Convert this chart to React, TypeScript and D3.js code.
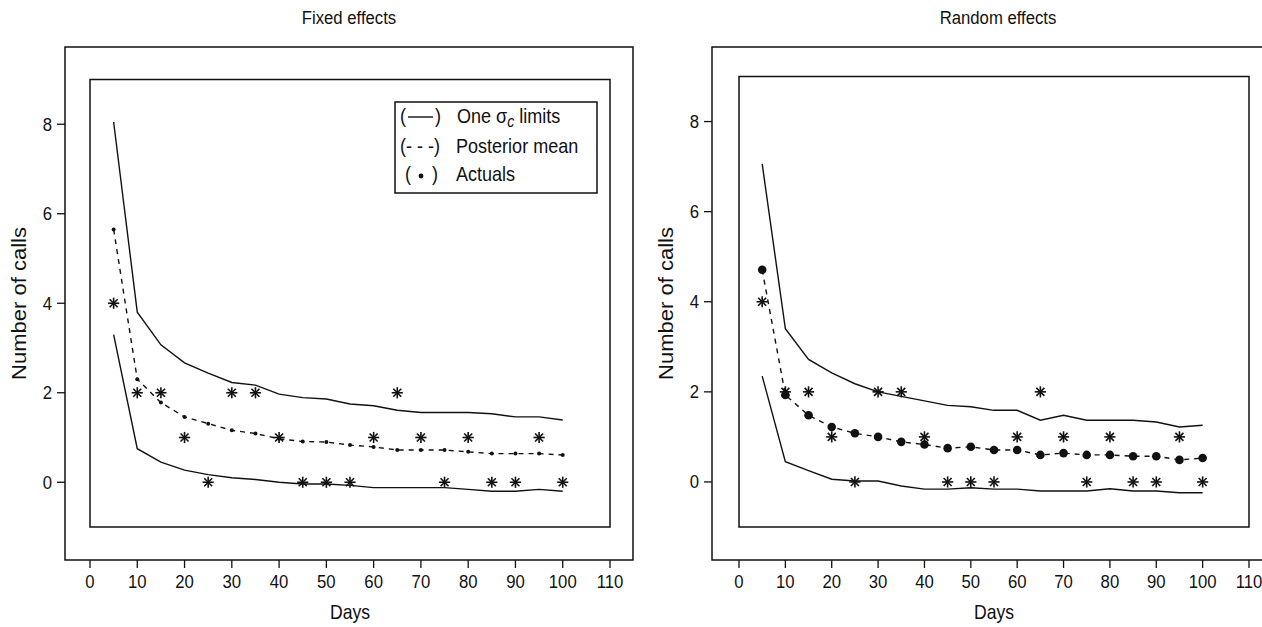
import React from "react";
import * as d3 from "d3";

// days of follow-up
const days = [5, 10, 15, 20, 25, 30, 35, 40, 45, 50, 55, 60, 65, 70, 75, 80, 85, 90, 95, 100];

// observed number of calls (same in both panels)
const actuals = [4, 2, 2, 1, 0, 2, 2, 1, 0, 0, 0, 1, 2, 1, 0, 1, 0, 0, 1, 0];

// fixed effects model
const fixedUpper = [8.05, 3.8, 3.07, 2.67, 2.44, 2.23, 2.17, 1.97, 1.89, 1.86, 1.75, 1.71, 1.61, 1.56, 1.56, 1.56, 1.53, 1.46, 1.46, 1.39];
const fixedMean = [5.65, 2.3, 1.78, 1.46, 1.31, 1.16, 1.09, 0.97, 0.91, 0.9, 0.83, 0.79, 0.72, 0.72, 0.72, 0.68, 0.64, 0.64, 0.64, 0.61];
const fixedLower = [3.3, 0.75, 0.45, 0.27, 0.17, 0.1, 0.06, 0.0, -0.04, -0.04, -0.07, -0.12, -0.12, -0.12, -0.12, -0.16, -0.2, -0.2, -0.16, -0.2];

// random effects model
const randomUpper = [7.06, 3.4, 2.72, 2.42, 2.18, 2.0, 1.9, 1.8, 1.7, 1.67, 1.59, 1.59, 1.37, 1.48, 1.37, 1.37, 1.37, 1.33, 1.22, 1.26];
const randomMean = [4.71, 1.93, 1.48, 1.22, 1.08, 1.0, 0.89, 0.83, 0.75, 0.78, 0.71, 0.71, 0.6, 0.64, 0.6, 0.6, 0.57, 0.57, 0.49, 0.53];
const randomLower = [2.35, 0.45, 0.25, 0.06, 0.02, 0.02, -0.09, -0.16, -0.16, -0.13, -0.16, -0.16, -0.2, -0.2, -0.2, -0.15, -0.2, -0.2, -0.24, -0.24];

const xTicks = [0, 10, 20, 30, 40, 50, 60, 70, 80, 90, 100, 110];
const yTicks = [0, 2, 4, 6, 8];

const FONT = "'Liberation Sans', Arial, Helvetica, sans-serif";
const INK = "#111";
const SQ = 0.88; // text in the original looks narrowed

// text drawn slightly condensed
function T({
  x,
  y,
  size,
  anchor = "start",
  rotate = false,
  children,
}: {
  x: number;
  y: number;
  size: number;
  anchor?: string;
  rotate?: boolean;
  children: React.ReactNode;
}) {
  return (
    <g transform={`translate(${x},${y}) scale(${SQ},1)${rotate ? " rotate(-90)" : ""}`}>
      <text textAnchor={anchor} dominantBaseline="central" fontSize={size} fontFamily={FONT} fill={INK}>
        {children}
      </text>
    </g>
  );
}

type PanelProps = {
  title: string;
  upper: number[];
  mean: number[];
  lower: number[];
  bigDots: boolean;
  inner: [number, number, number, number]; // x0, x1, yTop, yBottom in px for [0,110] x [-1,9]
  outer: [number, number, number, number]; // left, right, top, bottom
  titleX: number;
  legend?: boolean;
};

function Star({ x, y }: { x: number; y: number }) {
  const a = 5.6;
  const b = 4;
  return (
    <g stroke={INK} strokeWidth={1.6}>
      <line x1={x - a} x2={x + a} y1={y} y2={y} />
      <line x1={x} x2={x} y1={y - a} y2={y + a} />
      <line x1={x - b} x2={x + b} y1={y - b} y2={y + b} />
      <line x1={x - b} x2={x + b} y1={y + b} y2={y - b} />
    </g>
  );
}

function Panel({ title, upper, mean, lower, bigDots, inner, outer, titleX, legend }: PanelProps) {
  const x = d3.scaleLinear().domain([0, 110]).range([inner[0], inner[1]]);
  const y = d3.scaleLinear().domain([-1, 9]).range([inner[3], inner[2]]);
  const line = d3
    .line<number>()
    .x((_, i) => x(days[i]))
    .y((d) => y(d));

  const [oL, oR, oT, oB] = outer;
  const cy = (oT + oB) / 2;

  return (
    <g>
      <T x={titleX} y={18} size={19} anchor="middle">
        {title}
      </T>

      {/* outer plot region */}
      <rect x={oL} y={oT} width={oR - oL} height={oB - oT} fill="none" stroke={INK} strokeWidth={1.5} />
      {/* inner box */}
      <rect
        x={inner[0]}
        y={inner[2]}
        width={inner[1] - inner[0]}
        height={inner[3] - inner[2]}
        fill="none"
        stroke={INK}
        strokeWidth={1.5}
      />

      {/* y axis */}
      {yTicks.map((t) => (
        <g key={t}>
          <line x1={oL - 8} x2={oL} y1={y(t)} y2={y(t)} stroke={INK} strokeWidth={1.3} />
          <T x={oL - 13} y={y(t)} size={19} anchor="end">
            {t}
          </T>
        </g>
      ))}
      <T x={oL - 46} y={cy} size={22} anchor="middle" rotate>
        Number of calls
      </T>

      {/* x axis */}
      {xTicks.map((t) => (
        <g key={t}>
          <line x1={x(t)} x2={x(t)} y1={oB} y2={oB + 8} stroke={INK} strokeWidth={1.3} />
          <T x={x(t)} y={oB + 22} size={19} anchor="middle">
            {t}
          </T>
        </g>
      ))}
      <T x={x(55)} y={oB + 52} size={20} anchor="middle">
        Days
      </T>

      {/* one sigma limits and posterior mean */}
      <path d={line(upper) || ""} fill="none" stroke={INK} strokeWidth={1.4} />
      <path d={line(lower) || ""} fill="none" stroke={INK} strokeWidth={1.4} />
      <path d={line(mean) || ""} fill="none" stroke={INK} strokeWidth={1.4} strokeDasharray="5,5" />

      {mean.map((v, i) => (
        <circle key={"m" + i} cx={x(days[i])} cy={y(v)} r={bigDots ? 4.3 : 2} fill={INK} />
      ))}
      {actuals.map((v, i) => (
        <Star key={"a" + i} x={x(days[i])} y={y(v)} />
      ))}

      {legend && (
        <g>
          <rect x={395} y={102} width={202} height={91} fill="white" stroke={INK} strokeWidth={1.5} />
          <T x={400} y={116} size={20.5}>(</T>
          <line x1={408} x2={433} y1={117} y2={117} stroke={INK} strokeWidth={1.4} />
          <T x={435} y={116} size={20.5}>)</T>
          <T x={457} y={116} size={20.5}>
            One σ
            <tspan fontStyle="italic" fontSize={16} dy={5}>
              c
            </tspan>
            <tspan dy={-5}> limits</tspan>
          </T>
          <T x={400} y={146} size={20.5}>(- - -)</T>
          <T x={456} y={146} size={20.5}>Posterior mean</T>
          <T x={405} y={174} size={20.5}>(</T>
          <circle cx={421} cy={176} r={2.4} fill={INK} />
          <T x={432} y={174} size={20.5}>)</T>
          <T x={456} y={174} size={20.5}>Actuals</T>
        </g>
      )}
    </g>
  );
}

export default function App() {
  return (
    <svg
      width={1262}
      height={627}
      viewBox="0 0 1262 627"
      style={{ position: "absolute", left: 0, top: 0, background: "white" }}
    >
      <Panel
        title="Fixed effects"
        upper={fixedUpper}
        mean={fixedMean}
        lower={fixedLower}
        bigDots={false}
        inner={[90, 610, 79.5, 527]}
        outer={[65, 633, 47, 560]}
        titleX={349}
        legend
      />
      <Panel
        title="Random effects"
        upper={randomUpper}
        mean={randomMean}
        lower={randomLower}
        bigDots
        inner={[739, 1249, 76.5, 527]}
        outer={[712, 1284, 47, 560]}
        titleX={998}
      />
    </svg>
  );
}
